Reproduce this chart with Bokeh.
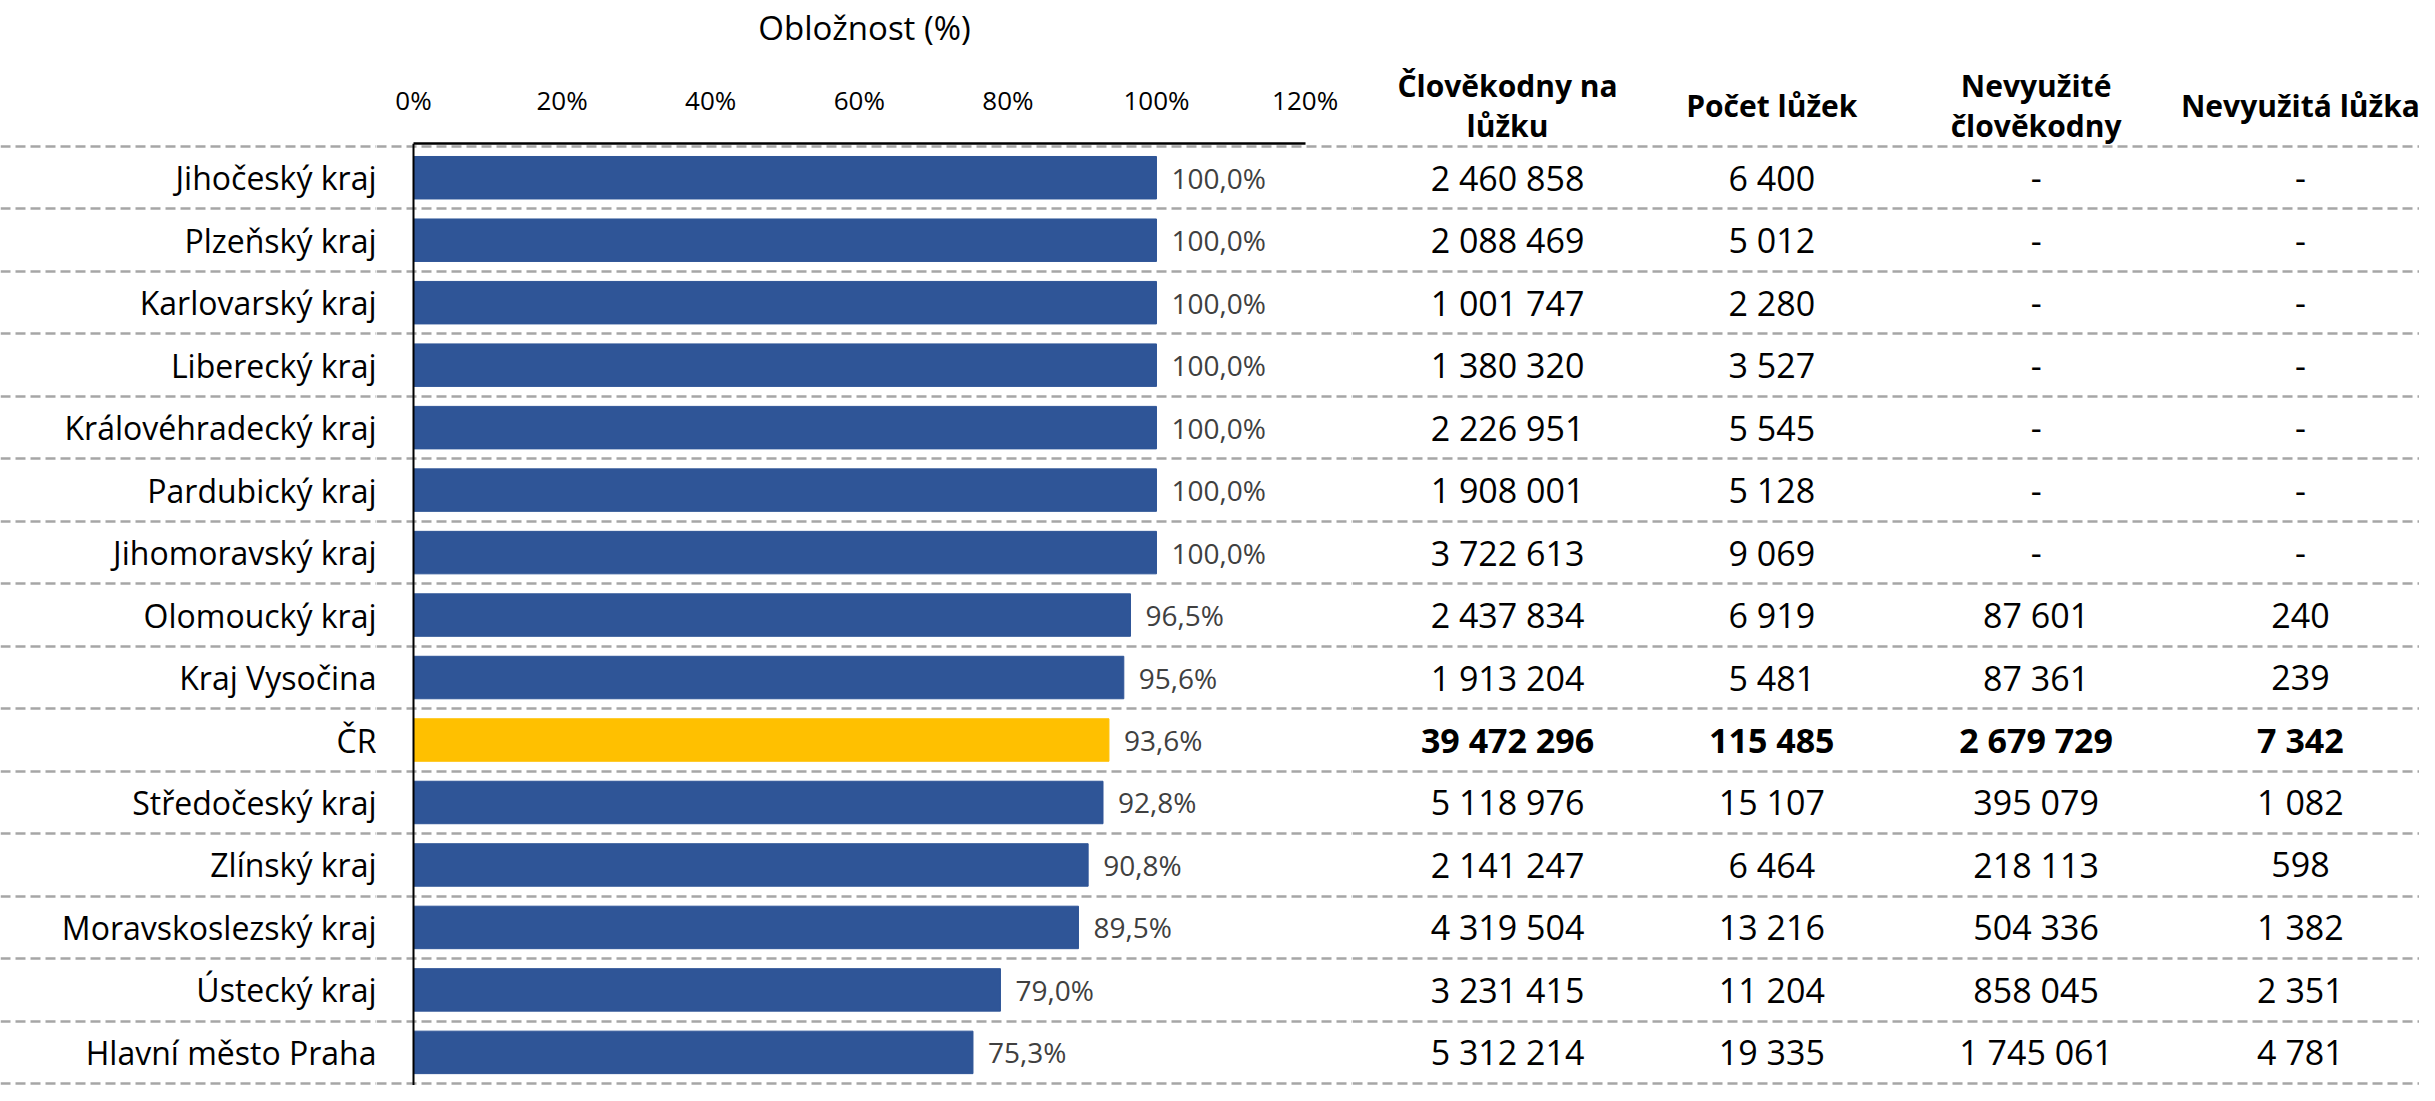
from bokeh.plotting import figure
from bokeh.layouts import row
from bokeh.models import (Range1d, ColumnDataSource, FixedTicker, Grid, Span,
                          CustomJSTickFormatter)
from bokeh.core.properties import value
from bokeh.embed import file_html
from bokeh.resources import INLINE

regions = ["Jihočeský kraj", "Plzeňský kraj", "Karlovarský kraj", "Liberecký kraj",
           "Královéhradecký kraj", "Pardubický kraj", "Jihomoravský kraj",
           "Olomoucký kraj", "Kraj Vysočina", "ČR", "Středočeský kraj",
           "Zlínský kraj", "Moravskoslezský kraj", "Ústecký kraj", "Hlavní město Praha"]
occupancy = [100.0, 100.0, 100.0, 100.0, 100.0, 100.0, 100.0, 96.5, 95.6, 93.6,
             92.8, 90.8, 89.5, 79.0, 75.3]
person_days = [2460858, 2088469, 1001747, 1380320, 2226951, 1908001, 3722613,
               2437834, 1913204, 39472296, 5118976, 2141247, 4319504, 3231415, 5312214]
beds = [6400, 5012, 2280, 3527, 5545, 5128, 9069, 6919, 5481, 115485, 15107,
        6464, 13216, 11204, 19335]
unused_days = [None, None, None, None, None, None, None, 87601, 87361, 2679729,
               395079, 218113, 504336, 858045, 1745061]
unused_beds = [None, None, None, None, None, None, None, 240, 239, 7342, 1082,
               598, 1382, 2351, 4781]
headers = ["Člověkodny na\nlůžku", "Počet lůžek", "Nevyužité\nčlověkodny", "Nevyužitá lůžka"]
x_ticks = [0, 20, 40, 60, 80, 100, 120]
total_label = "ČR"

FONT = "Open Sans"
BLUE = "#2F5597"
GOLD = "#FFC000"
GRID_COLOR = "#a6a6a6"

def fmt_num(v):
    return "-" if v is None else f"{v:,}".replace(",", " ")

n = len(regions)
ypos = list(range(n))
sep_ticks = [i - 0.5 for i in range(n + 1)]
H = 1085
FRAME_TOP = 143          # bar frame top (axis line)
SEP0 = 146               # first separator line
ROW_PX = (H - SEP0) / (n + 0.03)
y_bottom = -0.5 + (H - SEP0) / ROW_PX
y_top_bars = -0.5 - (SEP0 - FRAME_TOP) / ROW_PX
y_top_full = -0.5 - SEP0 / ROW_PX

def dashed_grid(fig):
    fig.outline_line_color = None
    for g in fig.grid:
        g.visible = False
    fig.add_layout(Grid(dimension=1, ticker=FixedTicker(ticks=sep_ticks),
                        grid_line_color=GRID_COLOR, grid_line_width=2.5,
                        grid_line_dash="10 5"))

src = ColumnDataSource(dict(
    y=ypos,
    region=regions,
    occ=occupancy,
    occ_lbl=[f"{v:.1f}%".replace(".", ",") for v in occupancy],
    color=[GOLD if r == total_label else BLUE for r in regions],
))

# ---------------- region labels ----------------
lab = figure(width=376, height=H, x_range=Range1d(0, 1),
             y_range=Range1d(y_bottom, y_top_full),
             x_axis_location=None, y_axis_location=None,
             output_backend="svg", toolbar_location=None, min_border=0)
lab.frame_align = False
dashed_grid(lab)
lab.text(x=1, y="y", text="region", source=src,
         text_align="right", text_baseline="middle",
         text_font=value(FONT), text_font_size="32px", text_color="black")

# ---------------- bars ----------------
p = figure(width=976, height=H,
           x_range=Range1d(-4.98, 126.38), y_range=Range1d(y_bottom, y_top_bars),
           x_axis_location="above", y_axis_location=None,
           output_backend="svg", toolbar_location=None,
           min_border_left=0, min_border_right=0, min_border_bottom=0,
           min_border_top=FRAME_TOP)
p.frame_align = False
dashed_grid(p)

ax = p.xaxis[0]
ax.bounds = (0, 120)
ax.ticker = FixedTicker(ticks=x_ticks)
ax.formatter = CustomJSTickFormatter(code="return tick.toFixed(0) + '%'")
ax.axis_line_color = "black"
ax.axis_line_width = 2.5
ax.major_tick_line_color = None
ax.minor_tick_line_color = None
ax.major_label_text_font = FONT
ax.major_label_text_font_size = "26px"
ax.major_label_text_color = "black"
ax.major_label_standoff = 20
ax.axis_label = "Obložnost (%)"
ax.axis_label_text_font = FONT
ax.axis_label_text_font_size = "33px"
ax.axis_label_text_font_style = "normal"
ax.axis_label_text_color = "black"
ax.axis_label_standoff = 29

p.hbar(y="y", left=0, right="occ", height=0.68, color="color", source=src)
p.add_layout(Span(location=0, dimension="height", line_color="black", line_width=2))

p.text(x="occ", y="y", text="occ_lbl", source=src, x_offset=15,
       text_align="left", text_baseline="middle",
       text_font=value(FONT), text_font_size="28px", text_color="#404040")

# ---------------- table ----------------
t = figure(width=1067, height=H,
           x_range=Range1d(-0.5865, 3.4506), y_range=Range1d(y_bottom, y_top_full),
           x_axis_location=None, y_axis_location=None,
           output_backend="svg", toolbar_location=None, min_border=0)
t.frame_align = False
dashed_grid(t)

cols = [person_days, beds, unused_days, unused_beds]
for ci, col in enumerate(cols):
    tsrc = ColumnDataSource(dict(
        x=[ci] * n, y=ypos, t=[fmt_num(v) for v in col],
        style=["bold" if r == total_label else "normal" for r in regions]))
    t.text(x="x", y="y", text="t", source=tsrc,
           text_align="center", text_baseline="middle",
           text_font=value(FONT), text_font_size="34px", text_color="black",
           text_font_style="style")

hsrc = ColumnDataSource(dict(x=list(range(len(headers))),
                             y=[-0.5 - 41 / ROW_PX] * len(headers), t=headers))
t.text(x="x", y="y", text="t", source=hsrc,
       text_align="center", text_baseline="middle",
       text_font=value(FONT), text_font_size="30px", text_font_style="bold",
       text_color="black", text_line_height=0.97)

layout = row(lab, p, t, spacing=0)
open("out.html", "w").write(file_html(layout, INLINE))
